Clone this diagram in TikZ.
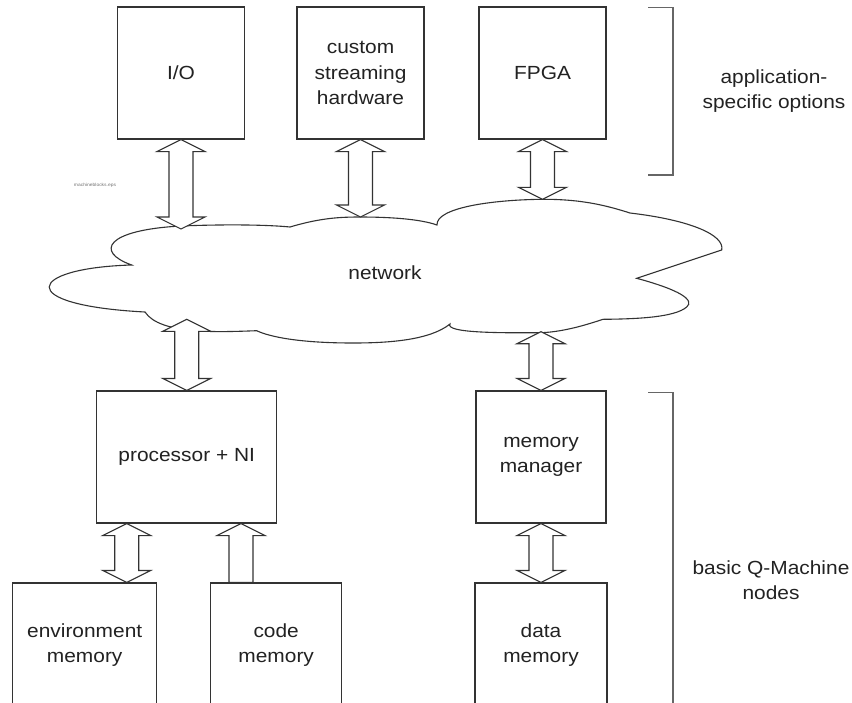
\documentclass[tikz,border=0pt]{standalone}
\usepackage{fontspec}
\setmainfont{Liberation Sans}[FakeStretch=1.1]
\usetikzlibrary{calc}
\definecolor{ln}{HTML}{333333}
\definecolor{tx}{HTML}{222222}
\newcommand{\fatdbl}[2]{\path[fat] let \p1=(#1), \p2=(#2) in
  (\x1,\y1) -- ++(24pt,-12pt) -- ++(-12pt,0pt) -- (\x1+12pt,\y2+12pt) -- ++(12pt,0pt)
  -- (\x2,\y2) -- (\x2-24pt,\y2+12pt) -- ++(12pt,0pt) -- (\x1-12pt,\y1-12pt) -- ++(-12pt,0pt) -- cycle;}
\newcommand{\fatup}[2]{\path[fat] let \p1=(#1), \p2=(#2) in
  (\x1,\y1) -- ++(24pt,-12pt) -- ++(-12pt,0pt) -- (\x1+12pt,\y2) -- (\x1-12pt,\y2)
  -- (\x1-12pt,\y1-12pt) -- ++(-12pt,0pt) -- cycle;}
\begin{document}
\begin{tikzpicture}[x=1pt,y=-1pt,line join=miter,
  box/.style={draw=ln,line width=1.1pt,fill=white,align=center,text=tx,
    font=\fontsize{19}{25.5}\selectfont,inner sep=0pt},
  fat/.style={draw=ln,line width=1.1pt,fill=white},
  brk/.style={draw=black!60,line width=1.6pt},
  lbl/.style={align=center,text=tx,font=\fontsize{19}{25.5}\selectfont}]
\useasboundingbox (0,0) rectangle (852,702);
% boxes
\node[box,minimum width=127pt,minimum height=132pt] (io) at (181,73) {I/O};
\node[box,minimum width=127pt,minimum height=132pt] (csh) at (360.5,73) {custom\\streaming\\hardware};
\node[box,minimum width=127pt,minimum height=132pt] (fpga) at (542.5,73) {FPGA};
\node[box,minimum width=180pt,minimum height=132pt] (proc) at (186.7,457) {processor + NI};
\node[box,minimum width=130pt,minimum height=132pt] (mm) at (541,457) {memory\\manager};
\node[box,minimum width=144pt,minimum height=124pt] (env) at (84.7,645) {environment\\memory};
\node[box,minimum width=131pt,minimum height=124pt] (code) at (276.2,645) {code\\memory};
\node[box,minimum width=132pt,minimum height=124pt] (dm) at (541,645) {data\\memory};
% cloud
\draw[ln,line width=1.1pt,fill=white]
  (145,312) .. controls (12,305) and (27,268) .. (131.7,265)
  .. controls (95,252) and (105,230) .. (181,226)
  .. controls (230,224) and (270,225) .. (290,227)
  .. controls (320,218) and (340,217) .. (360,217)
  .. controls (390,217) and (420,219) .. (437,225)
  .. controls (436,208) and (490,200) .. (541,199.3)
  .. controls (580,199) and (605,205) .. (630,213)
  .. controls (690,220) and (725,235) .. (721.7,250)
  -- (636.7,278.3)
  .. controls (680,290) and (695,300) .. (686.7,307)
  .. controls (675,317) and (640,319) .. (603,319.3)
  .. controls (580,327) and (560,332) .. (541,332.7)
  .. controls (500,333) and (445,333) .. (450,324)
  .. controls (430,340) and (390,343) .. (353,343)
  .. controls (300,343) and (270,337) .. (256.7,330.7)
  .. controls (220,332) and (160,335) .. (145,312) -- cycle;
\node[lbl] (net) at (385,273) {network};
\coordinate (cIO) at (181,229);
\coordinate (cCSH) at (360.5,217);
\coordinate (cFPGA) at (542.5,199.3);
\coordinate (cProc) at (186.7,319.3);
\coordinate (cMM) at (541,331.7);
% arrows
\fatdbl{io.south}{cIO}
\fatdbl{csh.south}{cCSH}
\fatdbl{fpga.south}{cFPGA}
\fatdbl{cProc}{proc.north}
\fatdbl{cMM}{mm.north}
\fatdbl{proc.south -| 126.7,0}{env.north -| 126.7,0}
\fatup{proc.south -| 241,0}{code.north -| 241,0}
\fatdbl{mm.south}{dm.north}
% brackets
\draw[brk] (648,7.3) -- (672.7,7.3) -- (672.7,175) -- (648,175);
\draw[brk] (648,392.3) -- (672.7,392.3) -- (672.7,710);
% labels
\node[lbl] (app) at (774,91) {application-\\specific options};
\node[lbl] (basic) at (771,580) {basic Q-Machine\\nodes};
\node[font=\fontsize{4.5}{5}\selectfont,text=black!55] (eps) at (95,185) {machineblocks.eps};
\end{tikzpicture}
\end{document}
